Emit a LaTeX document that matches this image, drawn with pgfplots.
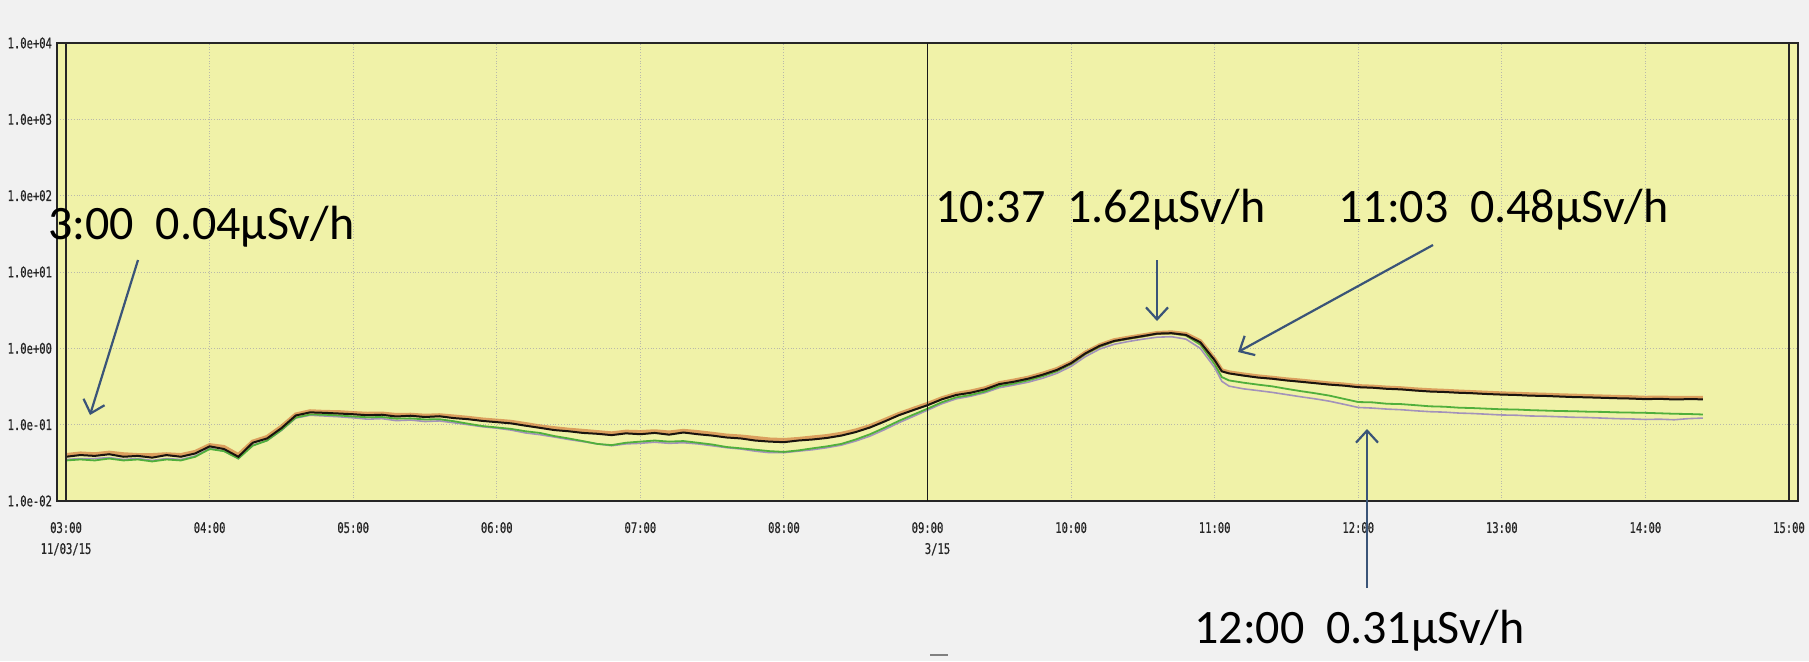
\documentclass[border=0pt]{standalone}
\usepackage{pgfplots}
\pgfplotsset{compat=1.18}
\usepackage{pgfplotstable}
\usetikzlibrary{arrows.meta}
\usepackage{fontspec}
\setmainfont{Carlito}
\newfontfamily\tickfont[FakeStretch=0.72,FakeBold=0.6]{DejaVu Sans Mono}
\definecolor{plotbg}{RGB}{240,242,168}
\definecolor{pagebg}{RGB}{241,241,241}
\definecolor{arrowc}{RGB}{58,84,120}
\definecolor{lkblack}{RGB}{25,20,15}
\definecolor{lkorange}{RGB}{205,105,45}
\definecolor{lkgreen}{RGB}{80,175,60}
\definecolor{lkpurple}{RGB}{150,130,190}
\definecolor{gridc}{RGB}{185,185,170}

\pgfplotstableread{
t k o g p
3.0 0.038 0.040 0.034 0.035
3.1 0.040 0.042 0.035 0.036
3.2 0.039 0.041 0.034 0.036
3.3 0.041 0.043 0.036 0.037
3.4 0.038 0.041 0.034 0.035
3.5 0.039 0.040 0.035 0.036
3.6 0.037 0.040 0.033 0.034
3.7 0.040 0.041 0.035 0.036
3.8 0.038 0.040 0.034 0.035
3.9 0.042 0.044 0.038 0.039
4.0 0.052 0.054 0.048 0.049
4.1 0.048 0.051 0.045 0.045
4.2 0.038 0.040 0.036 0.036
4.3 0.058 0.060 0.053 0.054
4.4 0.066 0.069 0.062 0.062
4.5 0.090 0.094 0.085 0.084
4.6 0.132 0.136 0.124 0.122
4.7 0.145 0.150 0.136 0.133
4.8 0.143 0.147 0.135 0.130
4.9 0.140 0.146 0.132 0.127
5.0 0.137 0.142 0.128 0.123
5.1 0.133 0.139 0.125 0.118
5.2 0.135 0.140 0.126 0.120
5.3 0.128 0.134 0.120 0.113
5.4 0.131 0.135 0.121 0.115
5.5 0.126 0.131 0.117 0.110
5.6 0.129 0.133 0.118 0.112
5.7 0.122 0.128 0.111 0.106
5.8 0.118 0.123 0.103 0.100
5.9 0.112 0.117 0.096 0.094
6.0 0.108 0.113 0.092 0.090
6.1 0.104 0.109 0.088 0.085
6.2 0.097 0.102 0.082 0.078
6.3 0.091 0.095 0.078 0.074
6.4 0.085 0.090 0.071 0.069
6.5 0.082 0.086 0.066 0.064
6.6 0.078 0.083 0.061 0.060
6.7 0.076 0.080 0.056 0.056
6.8 0.073 0.077 0.054 0.053
6.9 0.077 0.081 0.058 0.056
7.0 0.075 0.080 0.060 0.057
7.1 0.078 0.082 0.062 0.059
7.2 0.074 0.079 0.060 0.057
7.3 0.079 0.083 0.061 0.058
7.4 0.075 0.080 0.058 0.056
7.5 0.072 0.076 0.055 0.053
7.6 0.068 0.072 0.051 0.050
7.7 0.066 0.070 0.049 0.048
7.8 0.062 0.067 0.047 0.045
7.9 0.060 0.064 0.045 0.043
8.0 0.059 0.063 0.044 0.043
8.1 0.062 0.065 0.046 0.045
8.2 0.064 0.068 0.049 0.047
8.3 0.067 0.071 0.052 0.050
8.4 0.072 0.076 0.056 0.054
8.5 0.080 0.084 0.064 0.061
8.6 0.092 0.096 0.075 0.071
8.7 0.110 0.115 0.091 0.086
8.8 0.133 0.138 0.112 0.106
8.9 0.155 0.161 0.135 0.128
9.0 0.180 0.187 0.162 0.155
9.1 0.215 0.222 0.197 0.188
9.2 0.245 0.253 0.228 0.218
9.3 0.262 0.272 0.245 0.236
9.4 0.290 0.300 0.272 0.262
9.5 0.340 0.350 0.320 0.305
9.6 0.365 0.378 0.345 0.330
9.7 0.400 0.412 0.380 0.360
9.8 0.450 0.465 0.430 0.405
9.9 0.520 0.535 0.500 0.470
10.0 0.640 0.655 0.620 0.580
10.1 0.860 0.880 0.840 0.780
10.2 1.080 1.100 1.050 0.980
10.3 1.250 1.280 1.230 1.130
10.4 1.350 1.380 1.330 1.230
10.5 1.450 1.480 1.430 1.320
10.6 1.560 1.590 1.550 1.400
10.7 1.580 1.620 1.570 1.420
10.8 1.500 1.540 1.470 1.320
10.9 1.200 1.240 1.120 1.000
11.0 0.700 0.720 0.620 0.560
11.05 0.500 0.515 0.420 0.370
11.1 0.470 0.485 0.380 0.320
11.2 0.440 0.455 0.355 0.295
11.3 0.415 0.430 0.335 0.280
11.4 0.400 0.412 0.318 0.265
11.5 0.380 0.393 0.295 0.248
11.6 0.365 0.378 0.275 0.232
11.7 0.350 0.362 0.258 0.218
11.8 0.335 0.347 0.240 0.203
11.9 0.325 0.336 0.218 0.185
12.0 0.310 0.320 0.198 0.168
12.1 0.305 0.315 0.196 0.165
12.2 0.295 0.306 0.188 0.160
12.3 0.290 0.300 0.186 0.157
12.4 0.280 0.290 0.180 0.152
12.5 0.272 0.283 0.174 0.148
12.6 0.268 0.278 0.172 0.146
12.7 0.262 0.272 0.167 0.142
12.8 0.258 0.267 0.165 0.140
12.9 0.252 0.262 0.162 0.137
13.0 0.248 0.257 0.159 0.134
13.1 0.245 0.254 0.158 0.133
13.2 0.240 0.250 0.155 0.130
13.3 0.238 0.247 0.153 0.129
13.4 0.234 0.243 0.151 0.127
13.5 0.230 0.240 0.150 0.125
13.6 0.228 0.237 0.148 0.124
13.7 0.225 0.234 0.147 0.122
13.8 0.222 0.231 0.145 0.120
13.9 0.220 0.229 0.144 0.119
14.0 0.216 0.225 0.143 0.117
14.1 0.218 0.227 0.141 0.118
14.2 0.214 0.224 0.139 0.116
14.3 0.216 0.225 0.138 0.120
14.4 0.215 0.224 0.136 0.122
}\raddata

\begin{document}
\begin{tikzpicture}
\useasboundingbox (-28.5pt,-80pt) rectangle (876pt,250.5pt);
\fill[pagebg] (-28.5pt,-80pt) rectangle (876pt,250.5pt);
\begin{axis}[
  at={(0,0)}, anchor=south west,
  width=870.5pt, height=229pt, scale only axis,
  xmin=2.937, xmax=15.063,
  ymode=log, ymin=1e-2, ymax=1e4,
  xtick={3,4,5,6,7,8,9,10,11,12,13,14,15},
  xticklabels={{03:00\\11/03/15},04:00,05:00,06:00,07:00,08:00,{09:00\\\hspace*{10pt}3/15},10:00,11:00,12:00,13:00,14:00,15:00},
  ytick={1e-2,1e-1,1,10,100,1000,10000},
  yticklabels={1.0e-02,1.0e-01,1.0e+00,1.0e+01,1.0e+02,1.0e+03,1.0e+04},
  minor ytick={},
  xticklabel style={font=\tickfont\fontsize{7.3}{10.5}\selectfont, align=center, yshift=-7pt, text=black!85},
  yticklabel style={font=\tickfont\fontsize{7.3}{8}\selectfont, text=black!85, xshift=1pt},
  tick style={draw=none},
  grid=major,
  major grid style={densely dotted, gridc, line width=0.5pt},
  axis background/.style={fill=plotbg},
  axis line style={black!85, line width=0.6pt},
  clip=true,
]
\addplot[lkpurple, line width=0.8pt, opacity=0.85, no markers] table[x=t,y=p]{\raddata};
\addplot[lkgreen, line width=0.9pt, no markers] table[x=t,y=g]{\raddata};
\addplot[lkorange, line width=2pt, opacity=0.6, no markers] table[x=t,y=o]{\raddata};
\addplot[lkblack, line width=1pt, no markers] table[x=t,y=k]{\raddata};
\draw[black!85, line width=0.6pt] (axis cs:3,1e-2) -- (axis cs:3,1e4);
\draw[black!85, line width=0.6pt] (axis cs:15,1e-2) -- (axis cs:15,1e4);
\draw[black!90, line width=0.7pt] (axis cs:9,1e-2) -- (axis cs:9,1e4);
\end{axis}
\draw[black!50, line width=0.6pt] (436.5pt,-77pt) -- (445.5pt,-77pt);
\begin{scope}[every node/.style={font=\fontsize{24}{28}\selectfont, text=black, inner sep=0pt}]
\node[anchor=west] at (-4.5pt,137pt) {3:00\hspace{0.45em}0.04µSv/h};
\node[anchor=west] at (439pt,145.5pt) {10:37\hspace{0.45em}1.62µSv/h};
\node[anchor=west] at (640.5pt,145.5pt) {11:03\hspace{0.45em}0.48µSv/h};
\node[anchor=west] at (568.5pt,-65pt) {12:00\hspace{0.45em}0.31µSv/h};
\end{scope}
\begin{scope}[arrowc, line width=1.1pt, -{Straight Barb[length=6pt,width=11pt,line width=1.1pt]}]
\draw (40.5pt,120.5pt) -- (16.5pt,43pt);
\draw (550pt,120.5pt) -- (550pt,90pt);
\draw (688pt,128pt) -- (590.5pt,74.5pt);
\draw (655pt,-43.5pt) -- (655pt,36pt);
\end{scope}
\end{tikzpicture}
\end{document}
